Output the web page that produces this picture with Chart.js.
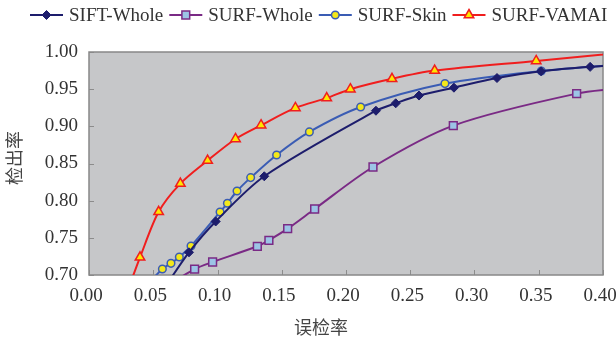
<!DOCTYPE html>
<html>
<head>
<meta charset="utf-8">
<script src="https://cdn.jsdelivr.net/npm/chart.js@4.4.1/dist/chart.umd.min.js"></script>
<style>
  body { margin: 0; background: #fff; }
  #wrap { width: 616px; height: 340px; }
</style>
</head>
<body>
<div id="wrap"><canvas id="roc" width="616" height="340"></canvas></div>
<script>
// values; first / last points sit outside the axes and get clipped
const siftWholeX = [0.0596, 0.0778, 0.0986, 0.1364, 0.2233, 0.2387, 0.2568, 0.284, 0.3175, 0.3518, 0.39, 0.42];
const siftWholeY = [0.685, 0.7305, 0.772, 0.8328, 0.921, 0.931, 0.9414, 0.952, 0.965, 0.974, 0.980, 0.983];

const surfWholeX = [0.065, 0.0822, 0.0962, 0.131, 0.140, 0.1546, 0.1756, 0.221, 0.2835, 0.3795, 0.42];
const surfWholeY = [0.690, 0.708, 0.7175, 0.7386, 0.7467, 0.7623, 0.7888, 0.8453, 0.901, 0.944, 0.952];

const surfSkinX = [0.047, 0.0571, 0.0638, 0.0703, 0.0794, 0.102, 0.1077, 0.1152, 0.1258, 0.146, 0.1715, 0.2114, 0.277, 0.352, 0.42];
const surfSkinY = [0.690, 0.708, 0.7157, 0.7242, 0.739, 0.7848, 0.7965, 0.813, 0.831, 0.8615, 0.8925, 0.926, 0.9575, 0.9745, 0.984];

const vamaiX = [0.032, 0.0397, 0.0542, 0.0711, 0.0923, 0.114, 0.1339, 0.1606, 0.185, 0.2034, 0.2358, 0.269, 0.348, 0.42];
const vamaiY = [0.688, 0.7238, 0.785, 0.823, 0.854, 0.883, 0.9015, 0.9248, 0.938, 0.950, 0.964, 0.975, 0.988, 0.9998];

const xTickLabels = ['0.00', '0.05', '0.10', '0.15', '0.20', '0.25', '0.30', '0.35', '0.40'];
const yTickLabels = ['0.70', '0.75', '0.80', '0.85', '0.90', '0.95', '1.00'];

const xTitle = '误检率';
const yTitle = '检出率';

const toPoints = (xs, ys) => xs.map((x, i) => ({ x: x, y: ys[i] }));

const tickFont = { family: '"Liberation Serif", serif', size: 19 };

// grey plot area, inner tick marks, legend and axis titles
const frameAndText = {
  id: 'frameAndText',
  beforeDatasetsDraw(chart) {
    const { ctx, chartArea: a, scales: { x, y } } = chart;
    ctx.save();
    ctx.fillStyle = '#c6c7c9';
    ctx.fillRect(a.left, a.top, a.right - a.left, a.bottom - a.top);
    ctx.strokeStyle = '#8c8c8c';
    ctx.lineWidth = 1;
    ctx.beginPath();
    x.ticks.forEach(t => {
      const px = Math.round(x.getPixelForValue(t.value)) + 0.5;
      ctx.moveTo(px, a.bottom);
      ctx.lineTo(px, a.bottom - 5);
    });
    y.ticks.forEach(t => {
      const py = Math.round(y.getPixelForValue(t.value)) + 0.5;
      ctx.moveTo(a.left, py);
      ctx.lineTo(a.left + 5, py);
    });
    ctx.stroke();
    ctx.lineWidth = 1.5;
    ctx.strokeStyle = '#888';
    ctx.strokeRect(a.left, a.top, a.right - a.left, a.bottom - a.top);
    ctx.restore();
  },
  afterDraw(chart) {
    const { ctx } = chart;
    ctx.save();
    // legend: line + marker + label
    ctx.font = '19px "Liberation Serif", serif';
    ctx.textBaseline = 'middle';
    ctx.textAlign = 'left';
    let cx = 30;
    const cy = 15;
    chart.data.datasets.forEach(ds => {
      ctx.strokeStyle = ds.borderColor;
      ctx.lineWidth = ds.borderWidth;
      ctx.beginPath();
      ctx.moveTo(cx, cy);
      ctx.lineTo(cx + 33, cy);
      ctx.stroke();
      ctx.fillStyle = ds.pointBackgroundColor;
      ctx.strokeStyle = ds.pointBorderColor;
      ctx.lineWidth = ds.pointBorderWidth;
      Chart.helpers.drawPoint(ctx, {
        pointStyle: ds.pointStyle, radius: ds.pointRadius, rotation: 0, borderWidth: ds.pointBorderWidth
      }, cx + 16.5, cy);
      ctx.fillStyle = '#333';
      ctx.fillText(ds.label, cx + 39, cy + 1);
      cx += 39 + ctx.measureText(ds.label).width + 6;
    });

    // axis titles
    ctx.fillStyle = '#444';
    ctx.font = '18px "Noto Sans CJK SC", sans-serif';
    ctx.textAlign = 'center';
    ctx.fillText(xTitle, 321, 327);
    ctx.translate(14, 158);
    ctx.rotate(-Math.PI / 2);
    ctx.fillText(yTitle, 0, 0);
    ctx.restore();
  }
};

new Chart(document.getElementById('roc'), {
  type: 'line',
  data: {
    datasets: [
      {
        label: 'SIFT-Whole',
        data: toPoints(siftWholeX, siftWholeY),
        borderColor: '#1d1d6c', borderWidth: 2,
        pointStyle: 'rectRot', pointRadius: 4.5,
        pointBackgroundColor: '#1d1d6c', pointBorderColor: '#1d1d6c', pointBorderWidth: 1
      },
      {
        label: 'SURF-Whole',
        data: toPoints(surfWholeX, surfWholeY),
        borderColor: '#7a2a85', borderWidth: 2,
        pointStyle: 'rect', pointRadius: 5.5,
        pointBackgroundColor: '#9cc4e6', pointBorderColor: '#7a2a85', pointBorderWidth: 1.5
      },
      {
        label: 'SURF-Skin',
        data: toPoints(surfSkinX, surfSkinY),
        borderColor: '#3a5cb4', borderWidth: 2,
        pointStyle: 'circle', pointRadius: 3.8,
        pointBackgroundColor: '#f4e81a', pointBorderColor: '#3a5cb4', pointBorderWidth: 1.5
      },
      {
        label: 'SURF-VAMAI',
        data: toPoints(vamaiX, vamaiY),
        borderColor: '#f01e1e', borderWidth: 2,
        pointStyle: 'triangle', pointRadius: 5.5,
        pointBackgroundColor: '#ffe600', pointBorderColor: '#f01e1e', pointBorderWidth: 1.5
      }
    ]
  },
  options: {
    responsive: false,
    animation: false,
    tension: 0.3,
    layout: { padding: { top: 52, right: 13, bottom: 0, left: 0 } },
    plugins: { legend: { display: false }, tooltip: { enabled: false } },
    scales: {
      x: {
        type: 'linear', min: 0, max: 0.4,
        grid: { display: false, drawTicks: false },
        border: { display: false },
        ticks: {
          stepSize: 0.05, padding: 10, labelOffset: -3, maxRotation: 0, autoSkip: false,
          color: '#333', font: tickFont,
          callback: (v, i) => xTickLabels[i] ?? v.toFixed(2)
        },
        afterFit: s => { s.height = 65; s.paddingLeft = 0; s.paddingRight = 0; }
      },
      y: {
        type: 'linear', min: 0.7, max: 1.0,
        grid: { display: false, drawTicks: false },
        border: { display: false },
        ticks: {
          stepSize: 0.05, padding: 11,
          color: '#333', font: tickFont,
          callback: (v, i) => yTickLabels[i] ?? v.toFixed(2)
        },
        afterFit: s => { s.width = 89; s.paddingTop = 0; s.paddingBottom = 0; }
      }
    }
  },
  plugins: [frameAndText]
});
</script>
</body>
</html>
